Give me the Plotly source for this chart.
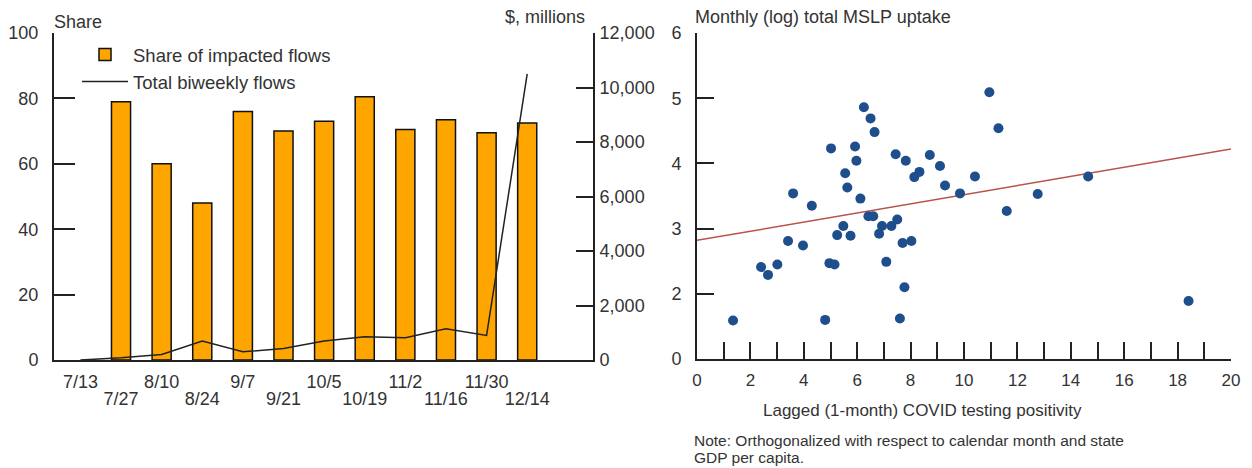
import plotly.graph_objects as go

W, H = 1252, 468

# ---------------- data: left panel ----------------
dates = ["7/13", "7/27", "8/10", "8/24", "9/7", "9/21", "10/5", "10/19",
         "11/2", "11/16", "11/30", "12/14"]
share_impacted = [None, 79, 60, 48, 76, 70, 73, 80.5, 70.5, 73.5, 69.5, 72.5]
biweekly_flows = [0, 80, 200, 700, 300, 420, 700, 850, 820, 1150, 900, 10500]
share_ticks = [0, 20, 40, 60, 80, 100]
flow_ticks = [0, 2000, 4000, 6000, 8000, 10000, 12000]

# ---------------- data: right panel ----------------
positivity = [1.35, 2.40, 2.66, 3.01, 3.41, 3.60, 3.97, 4.30, 4.80, 4.96,
              5.15, 5.02, 5.25, 5.48, 5.75, 5.55, 5.63, 5.92, 5.97, 6.12,
              6.25, 6.50, 6.65, 6.42, 6.60, 6.82, 6.93, 7.28, 7.50, 7.09,
              7.44, 7.82, 7.70, 8.03, 7.77, 7.60, 8.14, 8.33, 8.72, 9.10,
              9.29, 9.85, 10.41, 10.95, 11.29, 11.60, 12.76, 14.65, 18.41]
uptake = [1.59, 2.41, 2.29, 2.45, 2.81, 3.54, 2.74, 3.35, 1.60, 2.47,
          2.45, 4.23, 2.90, 3.04, 2.89, 3.85, 3.63, 4.26, 4.04, 3.46,
          4.86, 4.69, 4.48, 3.19, 3.19, 2.92, 3.04, 3.04, 3.14, 2.49,
          4.14, 4.04, 2.78, 2.81, 2.10, 1.62, 3.79, 3.87, 4.13, 3.96,
          3.66, 3.54, 3.80, 5.09, 4.54, 3.27, 3.53, 3.80, 1.89]
fit_x = [0, 20]
fit_y = [2.82, 4.22]
x_tickvals = [0, 2, 4, 6, 8, 10, 12, 14, 16, 18, 20]
y_tickvals = [1, 2, 3, 4, 5, 6]
y_ticktext = ["0", "2", "3", "4", "5", "6"]

# ---------------- styles ----------------
FONT = "Arial, Liberation Sans, sans-serif"
TXT = "#333333"
AX = "#222222"
ORANGE = "#FFA500"
BLUE = "#1F4E8C"
RED = "#B9524C"


def px_x(p):
    return p / W


def px_y(p):
    return 1 - p / H


fig = go.Figure()

fig.add_trace(go.Bar(
    x=dates, y=share_impacted, name="Share of impacted flows",
    marker=dict(color=ORANGE, line=dict(color="#111111", width=1.5)),
    width=0.47, xaxis="x", yaxis="y",
))
fig.add_trace(go.Scatter(
    x=dates, y=biweekly_flows, name="Total biweekly flows", mode="lines",
    line=dict(color="#222222", width=1.5), xaxis="x", yaxis="y2",
))
# empty trace that carries the second row of date labels
fig.add_trace(go.Scatter(
    x=dates, y=[None] * len(dates), mode="lines", showlegend=False,
    hoverinfo="skip", xaxis="x2", yaxis="y",
))

fig.add_trace(go.Scatter(
    x=fit_x, y=fit_y, mode="lines", line=dict(color=RED, width=1.5),
    showlegend=False, xaxis="x3", yaxis="y3",
))
fig.add_trace(go.Scatter(
    x=positivity, y=uptake, mode="markers",
    marker=dict(color=BLUE, size=10),
    showlegend=False, xaxis="x3", yaxis="y3",
))

left_dom = [px_x(54), px_x(593)]
left_ydom = [px_y(360), px_y(33)]
right_dom = [px_x(697), px_x(1231)]
right_ydom = [px_y(359), px_y(33)]
cat_range = [-0.65, 12.62]

fig.update_layout(
    width=W, height=H, autosize=False,
    margin=dict(l=0, r=0, t=0, b=0, pad=0),
    paper_bgcolor="white", plot_bgcolor="white",
    font=dict(family=FONT, color=TXT, size=17),
    showlegend=True,
    legend=dict(x=px_x(77), y=px_y(36), xanchor="left", yanchor="top",
                bgcolor="rgba(0,0,0,0)", font=dict(size=18.5),
                itemwidth=46, tracegroupgap=0),
    # upper row of date labels
    xaxis=dict(domain=left_dom, anchor="y", type="category",
               categoryorder="array", categoryarray=dates,
               range=cat_range, tickmode="array", tickvals=dates[0::2],
               ticks="", showline=True,
               linecolor=AX, linewidth=2, showgrid=False, zeroline=False,
               tickfont=dict(size=18), ticklabelstandoff=4, tickangle=0,
               automargin=False),
    # lower row of date labels
    xaxis2=dict(domain=left_dom, anchor="y", overlaying="x", side="bottom",
                type="category", categoryorder="array", categoryarray=dates,
                range=cat_range, tickmode="array", tickvals=dates[1::2],
                ticks="", showline=False, showgrid=False, zeroline=False,
                tickfont=dict(size=18), ticklabelstandoff=26, tickangle=0,
                automargin=False),
    yaxis=dict(domain=left_ydom, anchor="x", range=[0, 100],
               tickvals=share_ticks, ticks="inside", ticklen=21, tickwidth=2,
               tickcolor=AX, showline=True, linecolor=AX, linewidth=2,
               showgrid=False, zeroline=False, tickfont=dict(size=18),
               ticklabelstandoff=10, automargin=False),
    yaxis2=dict(domain=left_ydom, anchor="x", overlaying="y", side="right",
                range=[0, 12000], tickvals=flow_ticks, tickformat=",d",
                ticks="inside", ticklen=17, tickwidth=2, tickcolor=AX,
                showline=True, linecolor=AX, linewidth=2, showgrid=False,
                zeroline=False, tickfont=dict(size=18), ticklabelstandoff=1,
                automargin=False),
    xaxis3=dict(domain=right_dom, anchor="y3", range=[0, 20],
                tickvals=x_tickvals, ticks="inside", ticklen=17, tickwidth=2,
                tickcolor=AX, minor=dict(dtick=1, ticks="inside", ticklen=17,
                                         tickwidth=2, tickcolor=AX),
                showline=True, linecolor=AX, linewidth=2, showgrid=False,
                zeroline=False, tickfont=dict(size=17), ticklabelstandoff=5,
                tickangle=0, automargin=False),
    yaxis3=dict(domain=right_ydom, anchor="x3", range=[1, 6],
                tickvals=y_tickvals, ticktext=y_ticktext, ticks="inside",
                ticklen=17, tickwidth=2, tickcolor=AX, showline=True,
                linecolor=AX, linewidth=2, showgrid=False, zeroline=False,
                tickfont=dict(size=18), ticklabelstandoff=10,
                automargin=False),
    annotations=[
        dict(text="Share", x=px_x(52), y=px_y(22), xref="paper", yref="paper",
             xanchor="left", yanchor="middle", showarrow=False,
             font=dict(size=18)),
        dict(text="$, millions", x=px_x(587), y=px_y(17), xref="paper",
             yref="paper", xanchor="right", yanchor="middle",
             showarrow=False, font=dict(size=18)),
        dict(text="Monthly (log) total MSLP uptake", x=px_x(693), y=px_y(17),
             xref="paper", yref="paper", xanchor="left", yanchor="middle",
             showarrow=False, font=dict(size=18)),
        dict(text="Lagged (1-month) COVID testing positivity", x=px_x(923),
             y=px_y(410), xref="paper", yref="paper", xanchor="center",
             yanchor="middle", showarrow=False, font=dict(size=17)),
        dict(text="Note: Orthogonalized with respect to calendar month and state",
             x=px_x(692), y=px_y(440), xref="paper", yref="paper",
             xanchor="left", yanchor="middle", align="left", showarrow=False,
             font=dict(size=15.5)),
        dict(text="GDP per capita.",
             x=px_x(692), y=px_y(457), xref="paper", yref="paper",
             xanchor="left", yanchor="middle", align="left", showarrow=False,
             font=dict(size=15.5)),
    ],
)

fig.write_html("out.html",
               config={"displayModeBar": False},
               post_script="document.body.style.margin='0';"
                           "document.body.style.overflow='hidden';")
